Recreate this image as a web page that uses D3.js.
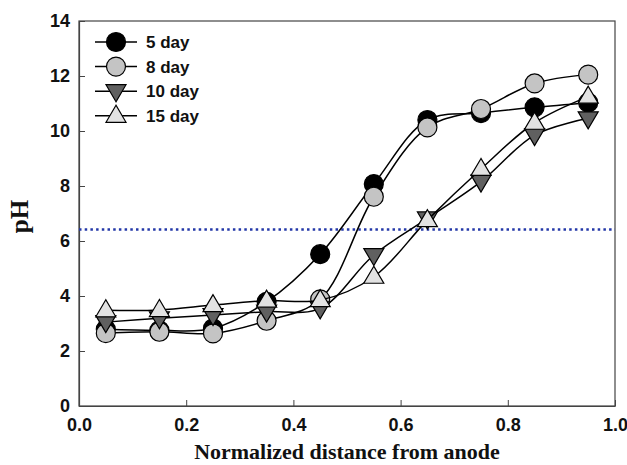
<!DOCTYPE html>
<html>
<head>
<meta charset="utf-8">
<script src="https://cdn.jsdelivr.net/npm/d3@7"></script>
<style>
  body { margin: 0; background: #fff; }
  svg text { font-family: "Liberation Sans", Arial, sans-serif; font-weight: bold; }
</style>
</head>
<body>
<div class="displayArea"></div>
<script>
// chart data
const distance = [0.05, 0.15, 0.25, 0.35, 0.45, 0.55, 0.65, 0.75, 0.85, 0.95];
const day5  = [2.79, 2.75, 2.82, 3.79, 5.52, 8.07, 10.40, 10.65, 10.86, 11.03];
const day8  = [2.65, 2.70, 2.64, 3.10, 3.88, 7.61, 10.13, 10.80, 11.73, 12.05];
const day10 = [3.05, 3.19, 3.31, 3.43, 3.55, 5.49, 6.82, 8.16, 9.85, 10.46];
const day15 = [3.48, 3.49, 3.67, 3.83, 3.85, 4.70, 6.76, 8.62, 10.30, 11.25];
const seriesNames = ["5 day", "8 day", "10 day", "15 day"];
const xTicks = [0.0, 0.2, 0.4, 0.6, 0.8, 1.0];
const yTicks = [0, 2, 4, 6, 8, 10, 12, 14];
const refPH = 6.42;

const width = 627, height = 465,
      plotLeft = 79, plotRight = 615, plotTop = 21, plotBottom = 406;

const series = [
  {name: seriesNames[0], data: day5,  shape: "circle", fill: "#000000"},
  {name: seriesNames[1], data: day8,  shape: "circle", fill: "#c4c4c4"},
  {name: seriesNames[2], data: day10, shape: "down",   fill: "#606060"},
  {name: seriesNames[3], data: day15, shape: "up",     fill: "#e2e2e2"}
];

const xScale = d3.scaleLinear().domain([0, 1]).range([plotLeft, plotRight]),
      yScale = d3.scaleLinear().domain([0, 14]).range([plotBottom, plotTop]);

const svg = d3.select(".displayArea")
  .append("svg")
  .attr("width", width)
  .attr("height", height);

// frame
svg.append("rect")
  .attr("x", plotLeft).attr("y", plotTop)
  .attr("width", plotRight - plotLeft).attr("height", plotBottom - plotTop)
  .attr("fill", "none").attr("stroke", "#444").attr("stroke-width", 1.2);

// axes, ticks pointing inward
const xAxis = d3.axisBottom(xScale).tickValues(xTicks).tickFormat(d3.format(".1f"))
  .tickSizeInner(-6).tickSizeOuter(0).tickPadding(12);
const yAxis = d3.axisLeft(yScale).tickValues(yTicks).tickFormat(d3.format("d"))
  .tickSizeInner(-6).tickSizeOuter(0).tickPadding(9);

svg.append("g").attr("class", "xAxis")
  .attr("transform", `translate(0,${plotBottom})`)
  .call(xAxis);
svg.append("g").attr("class", "yAxis")
  .attr("transform", `translate(${plotLeft},0)`)
  .call(yAxis);

svg.selectAll(".domain").attr("stroke", "#444").attr("stroke-width", 1.2);
svg.selectAll(".tick line").attr("stroke", "#444");
svg.selectAll(".tick text").attr("fill", "#111")
  .style("font-size", "18px");

// reference pH line
svg.append("line")
  .attr("x1", xScale(0)).attr("x2", xScale(1))
  .attr("y1", yScale(refPH)).attr("y2", yScale(refPH))
  .attr("stroke", "#2438a8").attr("stroke-width", 2.5)
  .attr("stroke-dasharray", "2.5,3.2");

const line = d3.line()
  .x((d, i) => xScale(distance[i]))
  .y(d => yScale(d))
  .curve(d3.curveCatmullRom.alpha(0.5));

function marker(g, shape, fill, cx, cy) {
  if (shape === "circle") {
    g.append("circle").attr("cx", cx).attr("cy", cy).attr("r", 9.5)
      .attr("fill", fill).attr("stroke", "#000").attr("stroke-width", 1.2);
  } else {
    const s = shape === "up" ? 1 : -1;
    const pts = [[cx, cy - s * 10.5], [cx - 10, cy + s * 6.5], [cx + 10, cy + s * 6.5]];
    g.append("path").attr("d", "M" + pts.join("L") + "Z")
      .attr("fill", fill).attr("stroke", "#000").attr("stroke-width", 1.2)
      .attr("stroke-linejoin", "miter");
  }
}

series.forEach(function (s) {
  const g = svg.append("g");
  g.append("path").datum(s.data)
    .attr("fill", "none").attr("stroke", "#000").attr("stroke-width", 1.5)
    .attr("d", line);
  s.data.forEach(function (d, i) {
    marker(g, s.shape, s.fill, xScale(distance[i]), yScale(d));
  });
});

// legend
const legend = svg.append("g");
series.forEach(function (s, i) {
  const y = 42 + i * 24.6;
  legend.append("line").attr("x1", 95).attr("x2", 137).attr("y1", y).attr("y2", y)
    .attr("stroke", "#000").attr("stroke-width", 1.5);
  marker(legend, s.shape, s.fill, 116, y);
  legend.append("text").attr("x", 146).attr("y", y + 6)
    .style("font-size", "17px").attr("fill", "#111").text(s.name);
});

// axis titles
svg.append("text")
  .attr("x", (plotLeft + plotRight) / 2).attr("y", 459)
  .attr("text-anchor", "middle")
  .style("font-family", "'Liberation Serif', 'Times New Roman', serif")
  .style("font-size", "22px").attr("fill", "#111")
  .text("Normalized distance from anode");

svg.append("text")
  .attr("transform", `translate(28,${(plotTop + plotBottom) / 2 + 3}) rotate(-90)`)
  .attr("text-anchor", "middle")
  .style("font-family", "'Liberation Serif', 'Times New Roman', serif")
  .style("font-size", "25px").attr("fill", "#111")
  .text("pH");
</script>
</body>
</html>
